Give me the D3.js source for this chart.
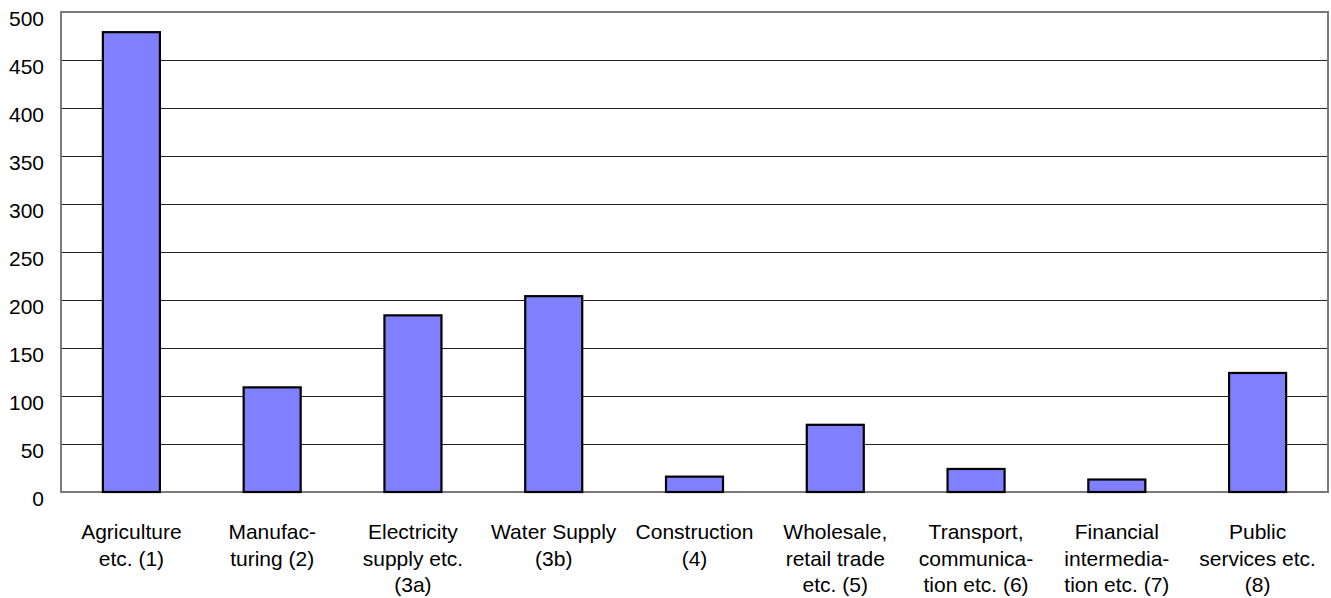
<!DOCTYPE html>
<html>
<head>
<meta charset="utf-8">
<script src="https://cdn.jsdelivr.net/npm/d3@7"></script>
<style>
  html, body { margin: 0; padding: 0; background: #fff; }
  svg { display: block; font-family: Arial, "Liberation Sans", sans-serif; }
</style>
</head>
<body>
<svg id="chart" width="1331" height="598"></svg>
<script>
// Sector categories (label lines) and their values
const categories = [
  ["Agriculture", "etc. (1)"],
  ["Manufac-", "turing (2)"],
  ["Electricity", "supply etc.", "(3a)"],
  ["Water Supply", "(3b)"],
  ["Construction", "(4)"],
  ["Wholesale,", "retail trade", "etc. (5)"],
  ["Transport,", "communica-", "tion etc. (6)"],
  ["Financial", "intermedia-", "tion etc. (7)"],
  ["Public", "services etc.", "(8)"]
];
const values = [479, 109, 184, 204, 16, 70, 24, 13, 124];
const yTicks = [0, 50, 100, 150, 200, 250, 300, 350, 400, 450, 500];

const svg = d3.select("#chart");
const margin = { left: 61, right: 3, top: 12, bottom: 106 };
const W = 1331, H = 598;
const plotW = W - margin.left - margin.right;
const plotH = H - margin.top - margin.bottom;

const keys = categories.map((c, i) => i);
const x = d3.scaleBand()
  .domain(keys)
  .range([margin.left, margin.left + plotW])
  .paddingInner(0.595)
  .paddingOuter(0.2975);

const y = d3.scaleLinear()
  .domain([0, 500])
  .range([margin.top + plotH, margin.top]);

// Horizontal gridlines
svg.append("g")
  .selectAll("line")
  .data(yTicks.filter(t => t > 0 && t < 500))
  .join("line")
  .attr("x1", margin.left)
  .attr("x2", margin.left + plotW)
  .attr("y1", d => Math.round(y(d)) + 0.5)
  .attr("y2", d => Math.round(y(d)) + 0.5)
  .attr("stroke", "#222")
  .attr("stroke-width", 1);

// Plot frame
svg.append("rect")
  .attr("x", margin.left)
  .attr("y", margin.top)
  .attr("width", plotW)
  .attr("height", plotH)
  .attr("fill", "none")
  .attr("stroke", "#7a7a7a")
  .attr("stroke-width", 2);

// Bars
svg.append("g")
  .selectAll("rect")
  .data(values)
  .join("rect")
  .attr("x", (d, i) => x(i))
  .attr("y", d => y(d))
  .attr("width", x.bandwidth())
  .attr("height", d => y(0) - y(d))
  .attr("fill", "#8080ff")
  .attr("stroke", "#000")
  .attr("stroke-width", 2.2);

// Y axis labels
const yAxis = d3.axisLeft(y)
  .tickValues(yTicks)
  .tickSize(0)
  .tickPadding(17)
  .tickFormat(d3.format("d"));
const ya = svg.append("g")
  .attr("transform", `translate(${margin.left},0)`)
  .call(yAxis);
ya.select(".domain").remove();
ya.selectAll("text")
  .attr("font-size", 21)
  .attr("font-family", "Arial, 'Liberation Sans', sans-serif")
  .attr("fill", "#000")
  .attr("dy", "0.64em");

// Category labels
const xl = svg.append("g");
categories.forEach((lines, i) => {
  const cx = x(i) + x.bandwidth() / 2;
  const t = xl.append("text")
    .attr("text-anchor", "middle")
    .attr("font-size", 21)
    .attr("fill", "#000");
  lines.forEach((ln, j) => {
    t.append("tspan")
      .attr("x", cx)
      .attr("y", 539 + j * 26.5)
      .text(ln);
  });
});
</script>
</body>
</html>
